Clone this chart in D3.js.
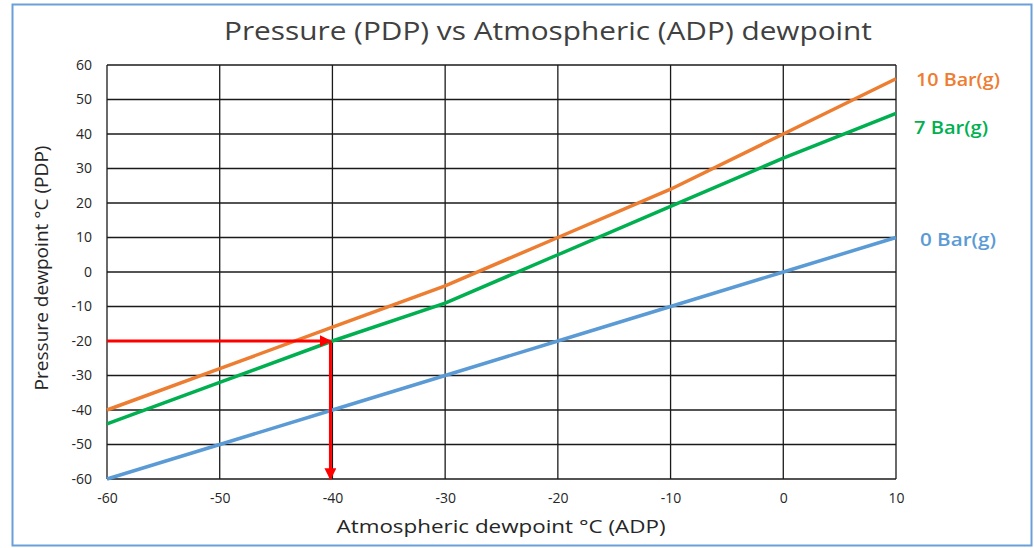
<!DOCTYPE html>
<html lang="en">
<head>
<meta charset="utf-8">
<title>Pressure vs Atmospheric dewpoint</title>
<script src="https://cdn.jsdelivr.net/npm/d3@7"></script>
<style>
  body { margin: 0; background: #fff; }
  text { font-family: "Open Sans", "Noto Sans", sans-serif; }
</style>
</head>
<body>
<script>
// atmospheric dewpoint (x) and the pressure dewpoint of each curve
var adp = [-60, -50, -40, -30, -20, -10, 0, 10];
var bar10 = [-40, -28, -16, -4, 10, 24, 40, 56];
var bar7 = [-44, -32, -20, -9, 5, 19, 33, 46];
var bar0 = [-60, -50, -40, -30, -20, -10, 0, 10];
var seriesNames = ["10 Bar(g)", "7 Bar(g)", "0 Bar(g)"];
var seriesColors = ["#ED7D31", "#00B050", "#5B9BD5"];
var xTicks = [-60, -50, -40, -30, -20, -10, 0, 10];
var yTicks = [60, 50, 40, 30, 20, 10, 0, -10, -20, -30, -40, -50, -60];
// red reading example: ADP -40 -> PDP -20 at 7 bar
var readX = -40, readY = -20;

var w = 1034, h = 548;
var svg = d3.select("body").append("svg").attr("width", w).attr("height", h);

// outer frame
svg.append("rect").attr("x", 12.5).attr("y", 4.5).attr("width", 1019).attr("height", 541)
  .attr("fill", "none").attr("stroke", "#6A9FD8").attr("stroke-width", 2);

var x = d3.scaleLinear().domain([-60, 10]).range([107, 896]);
var y = d3.scaleLinear().domain([-60, 60]).range([479, 65]);

// gridlines
svg.append("g").selectAll("line").data(xTicks).enter().append("line")
  .attr("x1", function(d) { return x(d); }).attr("x2", function(d) { return x(d); })
  .attr("y1", y(60)).attr("y2", y(-60))
  .attr("stroke", "#1a1a1a").attr("stroke-width", 1.3);
svg.append("g").selectAll("line").data(yTicks).enter().append("line")
  .attr("x1", x(-60)).attr("x2", x(10))
  .attr("y1", function(d) { return y(d); }).attr("y2", function(d) { return y(d); })
  .attr("stroke", "#1a1a1a").attr("stroke-width", 1.3);

// axes (labels only), plain hyphen for negatives
var fmt = function(d) { return String(d); };
var xAxis = svg.append("g").attr("transform", "translate(0," + y(-60) + ")")
  .call(d3.axisBottom(x).tickValues(xTicks).tickFormat(fmt).tickSize(0).tickPadding(14));
var yAxis = svg.append("g").attr("transform", "translate(" + x(-60) + ",0)")
  .call(d3.axisLeft(y).tickValues(yTicks).tickFormat(fmt).tickSize(0).tickPadding(15));
[xAxis, yAxis].forEach(function(a) {
  a.select(".domain").remove();
  a.selectAll("text").attr("font-size", "14px").attr("fill", "#262626")
    .attr("font-family", "\"Open Sans\", sans-serif");
});

// curves
var series = [bar10, bar7, bar0];
var line = d3.line().x(function(d, i) { return x(adp[i]); }).y(function(d) { return y(d); });
series.forEach(function(s, k) {
  svg.append("path").datum(s).attr("d", line)
    .attr("fill", "none").attr("stroke", seriesColors[k]).attr("stroke-width", 3.5);
});

// series labels
var labelX = [916, 914, 920];
var labelDy = [7, 21, 8];
var labelLen = [84, 74, 76];
series.forEach(function(s, k) {
  svg.append("text").attr("x", labelX[k]).attr("y", y(s[s.length - 1]) + labelDy[k])
    .attr("font-size", "18px").attr("font-weight", "600")
    .attr("textLength", labelLen[k]).attr("lengthAdjust", "spacingAndGlyphs")
    .attr("fill", seriesColors[k]).text(seriesNames[k]);
});

// red arrows
svg.append("defs").append("marker").attr("id", "arr")
  .attr("viewBox", "0 0 10 10").attr("refX", 9).attr("refY", 5)
  .attr("markerWidth", 4).attr("markerHeight", 4).attr("orient", "auto")
  .append("path").attr("d", "M0,0L10,5L0,10Z").attr("fill", "#FF0000");
svg.append("line").attr("x1", x(-60)).attr("y1", y(readY)).attr("x2", x(readX) - 2).attr("y2", y(readY))
  .attr("stroke", "#FF0000").attr("stroke-width", 3).attr("marker-end", "url(#arr)");
svg.append("line").attr("x1", x(readX) - 2).attr("y1", y(readY)).attr("x2", x(readX) - 2).attr("y2", y(-60))
  .attr("stroke", "#FF0000").attr("stroke-width", 3).attr("marker-end", "url(#arr)");

// title and axis titles
svg.append("text").attr("x", 548).attr("y", 40).attr("text-anchor", "middle")
  .attr("font-size", "25px").attr("fill", "#404040")
  .attr("textLength", 648).attr("lengthAdjust", "spacingAndGlyphs")
  .text("Pressure (PDP) vs Atmospheric (ADP) dewpoint");
svg.append("text").attr("x", 501).attr("y", 533).attr("text-anchor", "middle")
  .attr("font-size", "18px").attr("fill", "#262626")
  .attr("textLength", 329).attr("lengthAdjust", "spacingAndGlyphs")
  .text("Atmospheric dewpoint °C (ADP)");
svg.append("text").attr("transform", "translate(48,268) rotate(-90)").attr("text-anchor", "middle")
  .attr("font-size", "18px").attr("fill", "#262626")
  .attr("textLength", 245).attr("lengthAdjust", "spacingAndGlyphs")
  .text("Pressure dewpoint °C (PDP)");
</script>
</body>
</html>
